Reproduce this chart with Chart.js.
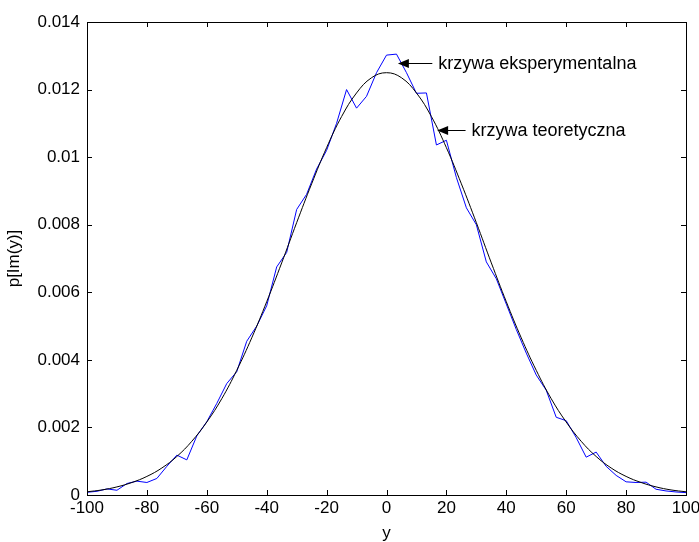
<!DOCTYPE html>
<html>
<head>
<meta charset="utf-8">
<script src="https://cdn.jsdelivr.net/npm/chart.js@4"></script>
<style>
  html, body { margin: 0; padding: 0; background: #fff; }
  #wrap { width: 699px; height: 542px; }
</style>
</head>
<body>
<div id="wrap"><canvas id="chart" width="699" height="542"></canvas></div>
<script>
// theoretical curve (read every 5 units)
const theoryX = [-100, -95, -90, -85, -80, -75, -70, -65, -60, -55, -50, -45, -40, -35, -30, -25, -20, -15, -10, -5,
                 0, 5, 10, 15, 20, 25, 30, 35, 40, 45, 50, 55, 60, 65, 70, 75, 80, 85, 90, 95, 100];
const theoryY = [0.000095, 0.00015, 0.00024, 0.00037, 0.00055, 0.00080, 0.00114, 0.00159, 0.00216, 0.00285,
                 0.00369, 0.00465, 0.00572, 0.00687, 0.00806, 0.00921, 0.01028, 0.01120, 0.01190, 0.01235,
                 0.01250, 0.01235, 0.01190, 0.01120, 0.01028, 0.00921, 0.00806, 0.00687, 0.00572, 0.00465,
                 0.00369, 0.00285, 0.00216, 0.00159, 0.00114, 0.00080, 0.00055, 0.00037, 0.00024, 0.00015, 0.000095];

// experimental histogram points
const expX = [-100, -96.67, -93.33, -90, -86.67, -83.33, -80, -76.67, -73.33, -70,
              -66.67, -63.33, -60, -56.67, -53.33, -50, -46.67, -43.33, -40, -36.67,
              -33.33, -30, -26.67, -23.33, -20, -16.67, -13.33, -10, -6.67, -3.33,
              0, 3.33, 6.67, 10, 13.33, 16.67, 20, 23.33, 26.67, 30,
              33.33, 36.67, 40, 43.33, 46.67, 50, 53.33, 56.67, 60, 63.33,
              66.67, 70, 73.33, 76.67, 80, 83.33, 86.67, 90, 93.33, 96.67, 100];
const expY = [0.00008, 0.00011, 0.00018, 0.00014, 0.00034, 0.00041, 0.00037, 0.00049, 0.00085, 0.00118,
              0.00104, 0.00175, 0.00217, 0.00271, 0.00330, 0.00365, 0.00455, 0.00500, 0.00560, 0.00675,
              0.00718, 0.00845, 0.00890, 0.00965, 0.01020, 0.01100, 0.01200, 0.01145, 0.01180, 0.01250,
              0.01302, 0.01305, 0.01250, 0.01189, 0.01190, 0.01036, 0.01050, 0.00940, 0.00850, 0.00800,
              0.00690, 0.00640, 0.00565, 0.00490, 0.00420, 0.00355, 0.00310, 0.00230, 0.00220, 0.00170,
              0.00112, 0.00127, 0.00085, 0.00058, 0.00039, 0.00037, 0.00038, 0.00017, 0.00012, 0.00009, 0.00007];

const xTicks = [-100, -80, -60, -40, -20, 0, 20, 40, 60, 80, 100];
const yTicks = [0, 0.002, 0.004, 0.006, 0.008, 0.01, 0.012, 0.014];

// annotations: text, arrow tip (x, y), arrow tail x
const noteText = ['krzywa eksperymentalna', 'krzywa teoretyczna'];
const noteTipX = [3.8, 16.9];
const noteTipY = [0.01279, 0.0108];
const noteTailX = [15.3, 26.4];

const FONT = '"Liberation Sans", Arial, sans-serif';

const matlabFrame = {
    id: 'matlabFrame',
    afterDraw(chart) {
        const ctx = chart.ctx;
        const a = chart.chartArea;
        const xs = chart.scales.x, ys = chart.scales.y;
        ctx.save();
        ctx.strokeStyle = '#000';
        ctx.lineWidth = 1;
        ctx.strokeRect(Math.round(a.left) + 0.5, Math.round(a.top) + 0.5,
                       Math.round(a.right - a.left), Math.round(a.bottom - a.top));
        const tl = 5;
        ctx.beginPath();
        xTicks.forEach(v => {
            const px = Math.round(xs.getPixelForValue(v)) + 0.5;
            ctx.moveTo(px, a.bottom); ctx.lineTo(px, a.bottom - tl);
            ctx.moveTo(px, a.top); ctx.lineTo(px, a.top + tl);
        });
        yTicks.forEach(v => {
            const py = Math.round(ys.getPixelForValue(v)) + 0.5;
            ctx.moveTo(a.left, py); ctx.lineTo(a.left + tl, py);
            ctx.moveTo(a.right, py); ctx.lineTo(a.right - tl, py);
        });
        ctx.stroke();

        // arrows + labels
        ctx.font = '18px ' + FONT;
        ctx.fillStyle = '#000';
        ctx.textBaseline = 'middle';
        ctx.textAlign = 'left';
        noteText.forEach((t, i) => {
            const tipX = xs.getPixelForValue(noteTipX[i]);
            const tipY = Math.round(ys.getPixelForValue(noteTipY[i])) + 0.5;
            const tailX = xs.getPixelForValue(noteTailX[i]);
            ctx.beginPath();
            ctx.moveTo(tailX, tipY); ctx.lineTo(tipX + 8, tipY);
            ctx.stroke();
            ctx.beginPath();
            ctx.moveTo(tipX, tipY);
            ctx.lineTo(tipX + 11, tipY - 4.5);
            ctx.lineTo(tipX + 11, tipY + 4.5);
            ctx.closePath();
            ctx.fill();
            ctx.fillText(t, tailX + 6, tipY + 1);
        });
        ctx.restore();
    }
};

new Chart(document.getElementById('chart').getContext('2d'), {
    type: 'line',
    data: {
        datasets: [{
            label: 'teoretyczna',
            data: theoryX.map((x, i) => ({ x: x, y: theoryY[i] })),
            borderColor: '#000',
            borderWidth: 1,
            pointRadius: 0,
            tension: 0.4,
            order: 0
        }, {
            label: 'eksperymentalna',
            data: expX.map((x, i) => ({ x: x, y: expY[i] })),
            borderColor: '#0000ff',
            borderWidth: 1,
            pointRadius: 0,
            tension: 0,
            order: 1
        }]
    },
    plugins: [matlabFrame],
    options: {
        responsive: false,
        animation: false,
        devicePixelRatio: 1,
        layout: { padding: { left: 0, right: 13, top: 22, bottom: 0 } },
        plugins: { legend: { display: false }, tooltip: { enabled: false } },
        scales: {
            x: {
                type: 'linear',
                min: -100, max: 100,
                afterBuildTicks: s => { s.ticks = xTicks.map(v => ({ value: v })); },
                afterFit: s => { s.height = 47; s.paddingLeft = 0; s.paddingRight = 0; },
                grid: { display: false, drawTicks: false },
                border: { display: false },
                ticks: {
                    color: '#000', padding: 3, maxRotation: 0,
                    font: { family: FONT, size: 17 },
                    callback: v => String(v)
                },
                title: {
                    display: true, text: 'y', color: '#000',
                    font: { family: FONT, size: 17, lineHeight: 1 },
                    padding: { top: 0, bottom: 0 }
                }
            },
            y: {
                type: 'linear',
                min: 0, max: 0.014,
                afterBuildTicks: s => { s.ticks = yTicks.map(v => ({ value: v })); },
                afterFit: s => { s.width = 87; s.paddingTop = 0; s.paddingBottom = 0; },
                grid: { display: false, drawTicks: false },
                border: { display: false },
                ticks: {
                    color: '#000', padding: 7,
                    font: { family: FONT, size: 17 },
                    callback: v => String(+v.toFixed(3))
                },
                title: {
                    display: true, text: 'p[Im(y)]', color: '#000',
                    font: { family: FONT, size: 17, lineHeight: 1 },
                    padding: { top: 6, bottom: 0 }
                }
            }
        }
    }
});
</script>
</body>
</html>
